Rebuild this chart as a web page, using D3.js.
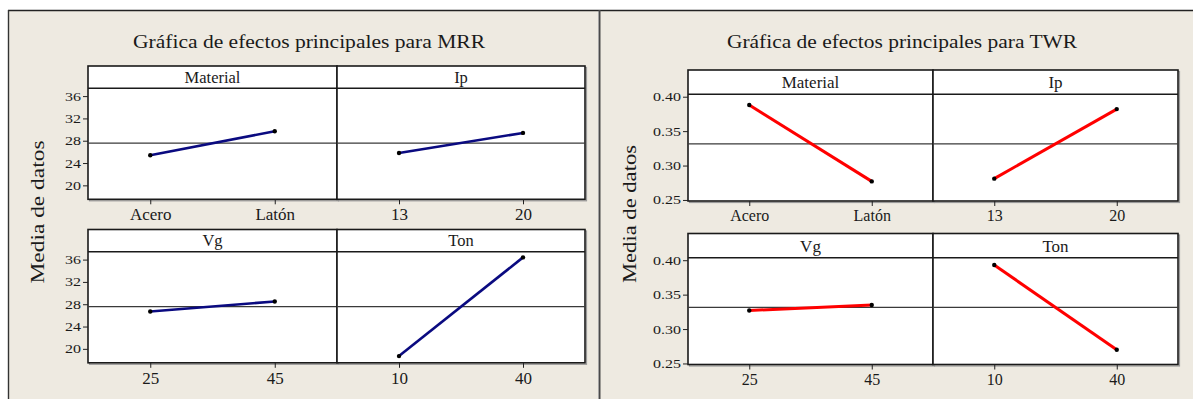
<!DOCTYPE html>
<html>
<head>
<meta charset="utf-8">
<script src="https://cdn.jsdelivr.net/npm/d3@7"></script>
<style>
  html, body { margin: 0; padding: 0; background: #ffffff; }
  svg { display: block; }
  text { font-family: "Liberation Serif", "DejaVu Serif", serif; fill: #1a1a1a; }
</style>
</head>
<body>
<svg id="chart" width="1193" height="399"></svg>
<script>
// ---------------- DATA ----------------
const factors = ["Material", "Ip", "Vg", "Ton"];
const levelsMaterial = ["Acero", "Latón"];
const levelsIp = ["13", "20"];
const levelsVg = ["25", "45"];
const levelsTon = ["10", "40"];

const mrrMaterial = [25.4, 29.7];
const mrrIp = [25.8, 29.4];
const mrrVg = [26.7, 28.5];
const mrrTon = [18.7, 36.4];

const twrMaterial = [0.388, 0.277];
const twrIp = [0.281, 0.382];
const twrVg = [0.327, 0.335];
const twrTon = [0.393, 0.270];

const mrrTicks = [20, 24, 28, 32, 36];
const twrTicks = [0.25, 0.30, 0.35, 0.40];

const mrrTitle = "Gráfica de efectos principales para MRR";
const twrTitle = "Gráfica de efectos principales para TWR";
const yLabel = "Media de datos";

// ---------------- LAYOUT ----------------
const svg = d3.select("#chart");
const levels = [levelsMaterial, levelsIp, levelsVg, levelsTon];

const charts = [
  {
    title: mrrTitle, values: [mrrMaterial, mrrIp, mrrVg, mrrTon], ticks: mrrTicks,
    fmt: d3.format("d"), color: "#0a0a80", lw: 2.6,
    bg: [8, 10, 590, 389],
    titleX: 133, titleW: 352, titleY: 48,
    cols: [88, 337, 585], stripTop: [66, 229.5], stripH: 22.3, plotH: 111,
    domain: [17.5, 37.4], ylabX: 44, ylabY: 212, ylabW: 143,
    xFont: 17, stripFont: 16.5
  },
  {
    title: twrTitle, values: [twrMaterial, twrIp, twrVg, twrTon], ticks: twrTicks,
    fmt: d3.format(".2f"), color: "#ff0000", lw: 3,
    bg: [600, 10, 593, 389],
    titleX: 727, titleW: 350, titleY: 48,
    cols: [688, 933, 1178], stripTop: [70, 233.5], stripH: 24.3, plotH: 106.7,
    domain: [0.2485, 0.4035], ylabX: 636, ylabY: 214, ylabW: 138,
    xFont: 16, stripFont: 17
  }
];

// page background panels
charts.forEach(c => {
  svg.append("rect")
    .attr("x", c.bg[0]).attr("y", c.bg[1])
    .attr("width", c.bg[2]).attr("height", c.bg[3])
    .attr("fill", "#eeeae1");
});
// outer borders
svg.append("line").attr("x1", 8).attr("x2", 1193).attr("y1", 10.5).attr("y2", 10.5)
  .attr("stroke", "#222").attr("stroke-width", 1.6);
svg.append("line").attr("x1", 8.5).attr("x2", 8.5).attr("y1", 10).attr("y2", 399)
  .attr("stroke", "#333").attr("stroke-width", 1.4);
svg.append("line").attr("x1", 599.5).attr("x2", 599.5).attr("y1", 10).attr("y2", 399)
  .attr("stroke", "#4a4a4a").attr("stroke-width", 2);

charts.forEach(c => {
  const g = svg.append("g");

  // title
  g.append("text")
    .attr("x", c.titleX).attr("y", c.titleY)
    .attr("textLength", c.titleW).attr("lengthAdjust", "spacingAndGlyphs")
    .style("font-size", "19px")
    .text(c.title);

  // y axis label
  g.append("text")
    .attr("transform", `translate(${c.ylabX},${c.ylabY}) rotate(-90)`)
    .attr("text-anchor", "middle")
    .attr("textLength", c.ylabW).attr("lengthAdjust", "spacingAndGlyphs")
    .style("font-size", "19px")
    .text(yLabel);

  factors.forEach((f, i) => {
    const col = i % 2, row = Math.floor(i / 2);
    const x0 = c.cols[col], x1 = c.cols[col + 1];
    const sTop = c.stripTop[row];
    const pTop = sTop + c.stripH;
    const pBot = pTop + c.plotH;

    const x = d3.scalePoint().domain(levels[i]).range([x0, x1]).padding(0.5);
    const y = d3.scaleLinear().domain(c.domain).range([pBot, pTop]);

    // shadow
    g.append("rect")
      .attr("x", x0 + 1.5).attr("y", sTop + 1.5)
      .attr("width", x1 - x0).attr("height", pBot - sTop)
      .attr("fill", "none").attr("stroke", "#9a9a9a").attr("stroke-width", 1.2);
    // panel area
    g.append("rect")
      .attr("x", x0).attr("y", sTop)
      .attr("width", x1 - x0).attr("height", pBot - sTop)
      .attr("fill", "#ffffff").attr("stroke", "#1a1a1a").attr("stroke-width", 1.6);
    // strip separator
    g.append("line")
      .attr("x1", x0).attr("x2", x1).attr("y1", pTop).attr("y2", pTop)
      .attr("stroke", "#1a1a1a").attr("stroke-width", 1.5);
    // strip label
    g.append("text")
      .attr("x", (x0 + x1) / 2).attr("y", sTop + c.stripH / 2)
      .attr("dy", "0.35em").attr("text-anchor", "middle")
      .style("font-size", c.stripFont + "px")
      .text(f);

    // grand mean reference line
    const allVals = c.values.flat();
    const mean = d3.mean(allVals);
    g.append("line")
      .attr("x1", x0).attr("x2", x1).attr("y1", y(mean)).attr("y2", y(mean))
      .attr("stroke", "#3a3a3a").attr("stroke-width", 1.2);

    // x axis
    const xa = g.append("g")
      .attr("transform", `translate(0,${pBot})`)
      .call(d3.axisBottom(x).tickSize(5).tickSizeOuter(0).tickPadding(4));
    xa.select(".domain").remove();
    xa.selectAll("line").attr("stroke", "#222").attr("stroke-width", 1);
    xa.selectAll("text")
      .style("font-size", c.xFont + "px")
      .style("font-family", '"Liberation Serif", serif')
      .attr("fill", "#1a1a1a");

    // y axis on first column
    if (col === 0) {
      const sx = 1.28;
      const ya = g.append("g")
        .attr("transform", `translate(${x0},0)`)
        .call(d3.axisLeft(y).tickValues(c.ticks).tickFormat(c.fmt).tickSize(5).tickSizeOuter(0).tickPadding(3));
      ya.select(".domain").remove();
      ya.selectAll("line").attr("stroke", "#222").attr("stroke-width", 1);
      ya.selectAll("text")
        .style("font-size", "12.5px")
        .style("font-family", '"Liberation Serif", serif')
        .attr("fill", "#1a1a1a")
        .attr("x", -7 / sx)
        .attr("transform", `scale(${sx},1)`);
    }

    // data line
    const vals = c.values[i];
    const pts = levels[i].map((lv, k) => [x(lv), y(vals[k])]);
    g.append("path")
      .attr("d", d3.line()(pts))
      .attr("fill", "none").attr("stroke", c.color).attr("stroke-width", c.lw);
    g.selectAll(null).data(pts).enter().append("circle")
      .attr("cx", d => d[0]).attr("cy", d => d[1]).attr("r", 2.2)
      .attr("fill", "#000");
  });
});
</script>
</body>
</html>
